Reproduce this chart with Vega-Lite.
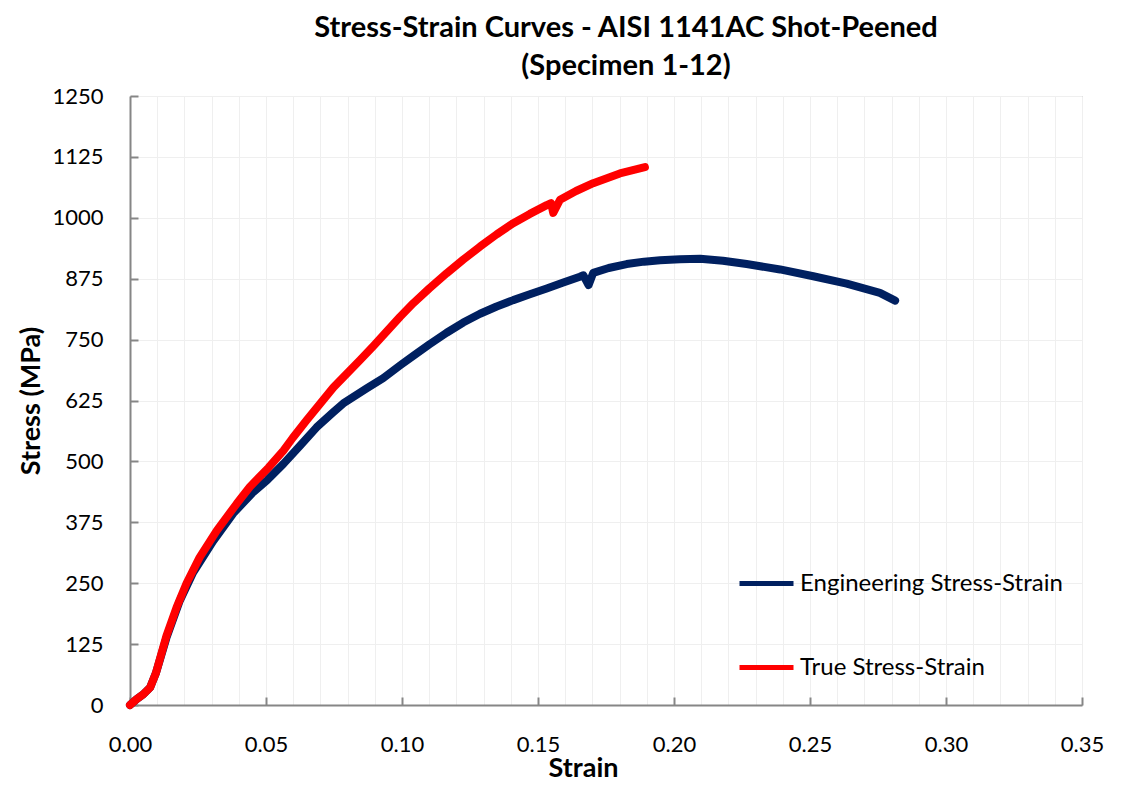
{
  "$schema": "https://vega.github.io/schema/vega-lite/v6.json",
  "width": 952,
  "height": 609,
  "autosize": "none",
  "padding": {"left": 130, "top": 96, "right": 59, "bottom": 83},
  "background": "white",
  "title": {
    "text": ["Stress-Strain Curves - AISI 1141AC Shot-Peened", "(Specimen 1-12)"],
    "font": "Lato",
    "fontSize": 29,
    "fontWeight": "bold",
    "color": "#000000",
    "anchor": "middle",
    "dx": 20,
    "lineHeight": 38,
    "offset": 4
  },
  "config": {
    "view": {"stroke": "#a6a6a6", "strokeWidth": 1},
    "font": "Lato"
  },
  "data": {
    "values": [
      {"series": "Engineering Stress-Strain", "strain": 0, "stress": 0},
      {"series": "Engineering Stress-Strain", "strain": 0.0024, "stress": 12},
      {"series": "Engineering Stress-Strain", "strain": 0.0049, "stress": 22},
      {"series": "Engineering Stress-Strain", "strain": 0.0074, "stress": 36},
      {"series": "Engineering Stress-Strain", "strain": 0.0095, "stress": 65},
      {"series": "Engineering Stress-Strain", "strain": 0.0134, "stress": 138},
      {"series": "Engineering Stress-Strain", "strain": 0.0183, "stress": 214},
      {"series": "Engineering Stress-Strain", "strain": 0.0232, "stress": 272},
      {"series": "Engineering Stress-Strain", "strain": 0.0305, "stress": 336},
      {"series": "Engineering Stress-Strain", "strain": 0.0379, "stress": 393},
      {"series": "Engineering Stress-Strain", "strain": 0.0453, "stress": 437},
      {"series": "Engineering Stress-Strain", "strain": 0.0505, "stress": 462},
      {"series": "Engineering Stress-Strain", "strain": 0.0564, "stress": 495},
      {"series": "Engineering Stress-Strain", "strain": 0.0625, "stress": 532},
      {"series": "Engineering Stress-Strain", "strain": 0.0686, "stress": 570},
      {"series": "Engineering Stress-Strain", "strain": 0.0745, "stress": 600},
      {"series": "Engineering Stress-Strain", "strain": 0.0784, "stress": 619},
      {"series": "Engineering Stress-Strain", "strain": 0.087, "stress": 650},
      {"series": "Engineering Stress-Strain", "strain": 0.0931, "stress": 671},
      {"series": "Engineering Stress-Strain", "strain": 0.0993, "stress": 697},
      {"series": "Engineering Stress-Strain", "strain": 0.1042, "stress": 717},
      {"series": "Engineering Stress-Strain", "strain": 0.11, "stress": 740},
      {"series": "Engineering Stress-Strain", "strain": 0.1164, "stress": 764},
      {"series": "Engineering Stress-Strain", "strain": 0.1225, "stress": 785},
      {"series": "Engineering Stress-Strain", "strain": 0.1287, "stress": 803},
      {"series": "Engineering Stress-Strain", "strain": 0.1348, "stress": 818},
      {"series": "Engineering Stress-Strain", "strain": 0.1409, "stress": 831},
      {"series": "Engineering Stress-Strain", "strain": 0.147, "stress": 843},
      {"series": "Engineering Stress-Strain", "strain": 0.1532, "stress": 855},
      {"series": "Engineering Stress-Strain", "strain": 0.1593, "stress": 867},
      {"series": "Engineering Stress-Strain", "strain": 0.1654, "stress": 879},
      {"series": "Engineering Stress-Strain", "strain": 0.1667, "stress": 882},
      {"series": "Engineering Stress-Strain", "strain": 0.1686, "stress": 862},
      {"series": "Engineering Stress-Strain", "strain": 0.1703, "stress": 887},
      {"series": "Engineering Stress-Strain", "strain": 0.176, "stress": 897},
      {"series": "Engineering Stress-Strain", "strain": 0.1826, "stress": 905},
      {"series": "Engineering Stress-Strain", "strain": 0.189, "stress": 910},
      {"series": "Engineering Stress-Strain", "strain": 0.1949, "stress": 913},
      {"series": "Engineering Stress-Strain", "strain": 0.2022, "stress": 915},
      {"series": "Engineering Stress-Strain", "strain": 0.2096, "stress": 916},
      {"series": "Engineering Stress-Strain", "strain": 0.218, "stress": 912},
      {"series": "Engineering Stress-Strain", "strain": 0.2267, "stress": 905},
      {"series": "Engineering Stress-Strain", "strain": 0.239, "stress": 894},
      {"series": "Engineering Stress-Strain", "strain": 0.2512, "stress": 880},
      {"series": "Engineering Stress-Strain", "strain": 0.2635, "stress": 865},
      {"series": "Engineering Stress-Strain", "strain": 0.2757, "stress": 846},
      {"series": "Engineering Stress-Strain", "strain": 0.2813, "stress": 830},
      {"series": "True Stress-Strain", "strain": 0, "stress": 0},
      {"series": "True Stress-Strain", "strain": 0.0024, "stress": 12},
      {"series": "True Stress-Strain", "strain": 0.0049, "stress": 22},
      {"series": "True Stress-Strain", "strain": 0.0074, "stress": 36},
      {"series": "True Stress-Strain", "strain": 0.0095, "stress": 65},
      {"series": "True Stress-Strain", "strain": 0.0134, "stress": 142},
      {"series": "True Stress-Strain", "strain": 0.0171, "stress": 200},
      {"series": "True Stress-Strain", "strain": 0.0208, "stress": 250},
      {"series": "True Stress-Strain", "strain": 0.0256, "stress": 303},
      {"series": "True Stress-Strain", "strain": 0.0319, "stress": 358},
      {"series": "True Stress-Strain", "strain": 0.0392, "stress": 413},
      {"series": "True Stress-Strain", "strain": 0.0441, "stress": 448},
      {"series": "True Stress-Strain", "strain": 0.0509, "stress": 487},
      {"series": "True Stress-Strain", "strain": 0.0564, "stress": 522},
      {"series": "True Stress-Strain", "strain": 0.0598, "stress": 548},
      {"series": "True Stress-Strain", "strain": 0.065, "stress": 585},
      {"series": "True Stress-Strain", "strain": 0.0748, "stress": 652},
      {"series": "True Stress-Strain", "strain": 0.0846, "stress": 708},
      {"series": "True Stress-Strain", "strain": 0.0895, "stress": 737},
      {"series": "True Stress-Strain", "strain": 0.0993, "stress": 797},
      {"series": "True Stress-Strain", "strain": 0.1042, "stress": 825},
      {"series": "True Stress-Strain", "strain": 0.11, "stress": 855},
      {"series": "True Stress-Strain", "strain": 0.1164, "stress": 886},
      {"series": "True Stress-Strain", "strain": 0.1225, "stress": 914},
      {"series": "True Stress-Strain", "strain": 0.1287, "stress": 941},
      {"series": "True Stress-Strain", "strain": 0.1348, "stress": 966},
      {"series": "True Stress-Strain", "strain": 0.1409, "stress": 989},
      {"series": "True Stress-Strain", "strain": 0.147, "stress": 1008},
      {"series": "True Stress-Strain", "strain": 0.1532, "stress": 1026},
      {"series": "True Stress-Strain", "strain": 0.1548, "stress": 1030},
      {"series": "True Stress-Strain", "strain": 0.1556, "stress": 1010},
      {"series": "True Stress-Strain", "strain": 0.1581, "stress": 1037},
      {"series": "True Stress-Strain", "strain": 0.164, "stress": 1055},
      {"series": "True Stress-Strain", "strain": 0.1703, "stress": 1071},
      {"series": "True Stress-Strain", "strain": 0.1801, "stress": 1091},
      {"series": "True Stress-Strain", "strain": 0.1893, "stress": 1104}
    ]
  },
  "mark": {"type": "line", "strokeWidth": 8, "strokeCap": "round", "strokeJoin": "round"},
  "encoding": {
    "x": {
      "field": "strain",
      "type": "quantitative",
      "scale": {"domain": [0, 0.35], "nice": false, "zero": false},
      "axis": {
        "title": "Strain",
        "titleFont": "Lato",
        "titleFontSize": 27,
        "titleFontWeight": "bold",
        "titleColor": "#000000",
        "titlePadding": 0,
        "titleX": 453,
        "values": [0, 0.01, 0.02, 0.03, 0.04, 0.05, 0.06, 0.07, 0.08, 0.09, 0.1, 0.11, 0.12, 0.13, 0.14, 0.15, 0.16, 0.17, 0.18, 0.19, 0.2, 0.21, 0.22, 0.23, 0.24, 0.25, 0.26, 0.27, 0.28, 0.29, 0.3, 0.31, 0.32, 0.33, 0.34, 0.35],
        "labelExpr": "round(datum.value*100) % 5 === 0 ? format(datum.value, '.2f') : ''",
        "labelFont": "Lato",
        "labelFontSize": 22,
        "labelColor": "#000000",
        "labelPadding": 37,
        "labelFlush": false,
        "labelOverlap": false,
        "tickSize": -8,
        "tickColor": "#868686",
        "tickWidth": 2,
        "tickOpacity": {"condition": {"test": "round(datum.value*100) % 5 === 0", "value": 1}, "value": 0},
        "domainColor": "#868686",
        "domainWidth": 2,
        "grid": true,
        "gridColor": "#efefef",
        "gridWidth": 1
      }
    },
    "y": {
      "field": "stress",
      "type": "quantitative",
      "scale": {"domain": [0, 1250], "nice": false},
      "axis": {
        "title": "Stress (MPa)",
        "titleFont": "Lato",
        "titleFontSize": 27,
        "titleFontWeight": "bold",
        "titleColor": "#000000",
        "titlePadding": 6,
        "values": [0, 125, 250, 375, 500, 625, 750, 875, 1000, 1125, 1250],
        "format": "d",
        "labelFont": "Lato",
        "labelFontSize": 22,
        "labelColor": "#000000",
        "labelPadding": 35,
        "labelFlush": false,
        "tickSize": -8,
        "tickColor": "#868686",
        "tickWidth": 2,
        "domainColor": "#868686",
        "domainWidth": 2,
        "grid": true,
        "gridColor": "#efefef",
        "gridWidth": 1
      }
    },
    "color": {
      "field": "series",
      "type": "nominal",
      "scale": {"domain": ["Engineering Stress-Strain", "True Stress-Strain"], "range": ["#002060", "#ff0000"]},
      "legend": {
        "title": null,
        "orient": "none",
        "legendX": 607,
        "legendY": 458,
        "symbolType": "stroke",
        "symbolStrokeWidth": 5,
        "symbolSize": 2916,
        "labelFont": "Lato",
        "labelFontSize": 24,
        "labelColor": "#000000",
        "labelOffset": 4,
        "rowPadding": 42,
        "labelLimit": 400
      }
    }
  }
}
